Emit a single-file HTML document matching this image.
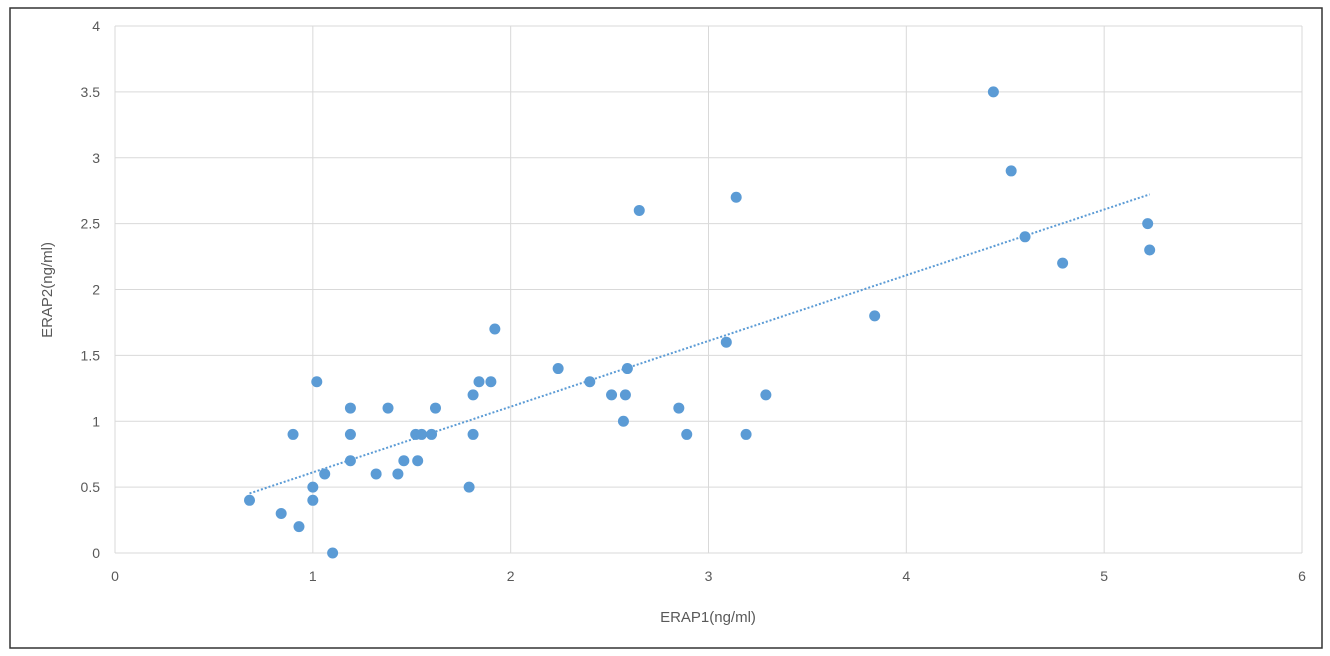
<!DOCTYPE html>
<html><head><meta charset="utf-8"><style>
html,body{margin:0;padding:0;background:#fff;}
svg{display:block;font-family:"Liberation Sans",sans-serif;}
</style></head><body>
<svg id="chart" width="1330" height="656">
<rect x="10" y="8" width="1312" height="640" fill="#fff" stroke="#333" stroke-width="1.5"/>
<g id="grid"></g><g id="axes"></g><g id="trend"></g><g id="pts"></g>
<text x="708" y="622" font-size="15" fill="#595959" text-anchor="middle">ERAP1(ng/ml)</text>
<text transform="translate(52,290) rotate(-90)" font-size="15" fill="#595959" text-anchor="middle">ERAP2(ng/ml)</text>
</svg>
<script>
const xVals=[0.68,0.84,0.9,0.93,1.0,1.0,1.02,1.06,1.1,1.19,1.19,1.19,1.32,1.38,1.43,1.46,1.52,1.53,1.55,1.6,1.62,1.79,1.81,1.81,1.84,1.9,1.92,2.24,2.4,2.51,2.57,2.58,2.59,2.65,2.85,2.89,3.09,3.14,3.19,3.29,3.84,4.44,4.53,4.6,4.79,5.22,5.23];
const yVals=[0.4,0.3,0.9,0.2,0.5,0.4,1.3,0.6,0.0,0.9,1.1,0.7,0.6,1.1,0.6,0.7,0.9,0.7,0.9,0.9,1.1,0.5,1.2,0.9,1.3,1.3,1.7,1.4,1.3,1.2,1.0,1.2,1.4,2.6,1.1,0.9,1.6,2.7,0.9,1.2,1.8,3.5,2.9,2.4,2.2,2.5,2.3];
const xTicks=[0,1,2,3,4,5,6];
const yTicks=[0,0.5,1,1.5,2,2.5,3,3.5,4];
const X0=115,X1=1302,Y0=553,Y1=26;
const sx=v=>X0+(v-0)/(6-0)*(X1-X0);
const sy=v=>Y0-(v-0)/(4-0)*(Y0-Y1);
const NS="http://www.w3.org/2000/svg";
function mk(t,a,p){const e=document.createElementNS(NS,t);for(const k in a)e.setAttribute(k,a[k]);p.appendChild(e);return e;}
const grid=document.getElementById('grid'),axes=document.getElementById('axes');
xTicks.forEach(t=>{
  const l=mk('line',{x1:sx(t),x2:sx(t),y1:Y1,y2:Y0,stroke:'#d9d9d9','stroke-width':1},grid);
  
  
  const tx=mk('text',{x:sx(t),y:Y0+28,'font-size':14,fill:'#595959','text-anchor':'middle'},axes);
  tx.textContent=t;
  
  
});
yTicks.forEach(t=>{
  const l=mk('line',{x1:X0,x2:X1,y1:sy(t),y2:sy(t),stroke:'#d9d9d9','stroke-width':1},grid);
  
  
  const tx=mk('text',{x:X0-15,y:sy(t)+5,'font-size':14,fill:'#595959','text-anchor':'end'},axes);
  tx.textContent=t;
  
  
});
// linear trendline
const n=xVals.length;let mx=0,my=0;xVals.forEach((v,i)=>{mx+=v;my+=yVals[i];});mx/=n;my/=n;
let sxy=0,sxx=0;xVals.forEach((v,i)=>{sxy+=(v-mx)*(yVals[i]-my);sxx+=(v-mx)*(v-mx);});
const b=sxy/sxx,a=my-b*mx;const xmin=Math.min(...xVals),xmax=Math.max(...xVals);
const tl=mk('line',{x1:sx(xmin),y1:sy(a+b*xmin),x2:sx(xmax),y2:sy(a+b*xmax),stroke:'#5b9bd5','stroke-width':2,'stroke-dasharray':'2 2'},document.getElementById('trend'));


const pts=document.getElementById('pts');
xVals.forEach((v,i)=>{
  const c=mk('circle',{cx:sx(v),cy:sy(yVals[i]),r:5.5,fill:'#5b9bd5'},pts);
  
  
});
</script>
</body></html>
